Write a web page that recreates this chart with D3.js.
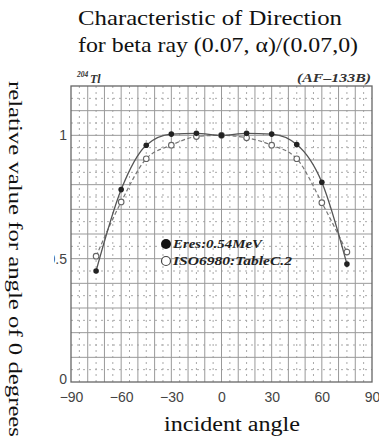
<!DOCTYPE html>
<html>
<head>
<meta charset="utf-8">
<script src="https://cdn.jsdelivr.net/npm/d3@7"></script>
<style>
  body { margin: 0; background: #fff; }
  svg { display: block; }
</style>
</head>
<body>
<svg id="chart"></svg>
<script>
// angles and values
const angles = [-75, -60, -45, -30, -15, 0, 15, 30, 45, 60, 75];
const eresValues = [0.45, 0.78, 0.96, 1.005, 1.008, 1.0, 1.008, 1.005, 0.963, 0.81, 0.478];
const isoValues = [0.51, 0.73, 0.905, 0.96, 0.995, 1.0, 0.99, 0.96, 0.905, 0.727, 0.527];
const xTicks = [-90, -60, -30, 0, 30, 60, 90];
const yTicks = [0, 0.5, 1];
const legendLabels = ["Eres:0.54MeV", "ISO6980:TableC.2"];

const W = 379, H = 440;
const svg = d3.select("#chart").attr("width", W).attr("height", H);

// scales
const x = d3.scaleLinear().domain([-90, 90]).range([71, 372]);
const y = d3.scaleLinear().domain([0, 1.2]).range([382, 86]);

const serif = "'Liberation Serif', 'DejaVu Serif', serif";
const sans = "'Liberation Sans', Arial, sans-serif";

// titel
const title = svg.append("g")
    .style("font-family", serif)
    .style("font-size", "21px")
    .attr("fill", "#111");
title.append("text").attr("x", 78).attr("y", 25)
    .attr("textLength", 264).attr("lengthAdjust", "spacingAndGlyphs")
    .text("Characteristic of Direction");
title.append("text").attr("x", 78).attr("y", 52)
    .attr("textLength", 280).attr("lengthAdjust", "spacingAndGlyphs")
    .text("for beta ray (0.07, α)/(0.07,0)");

// minor grid (dotted)
const grid = svg.append("g");
grid.selectAll(".vmin")
    .data(d3.range(-85, 90, 10))
    .enter().append("line")
    .attr("x1", d => x(d)).attr("x2", d => x(d))
    .attr("y1", y(1.2)).attr("y2", y(0))
    .attr("stroke", "#aaa").attr("stroke-width", 1)
    .attr("stroke-dasharray", "2,4");
grid.selectAll(".hmin")
    .data(d3.range(0.05, 1.2, 0.1))
    .enter().append("line")
    .attr("x1", x(-90)).attr("x2", x(90))
    .attr("y1", d => y(d)).attr("y2", d => y(d))
    .attr("stroke", "#aaa").attr("stroke-width", 1)
    .attr("stroke-dasharray", "2,4");

// major grid
grid.selectAll(".vmaj")
    .data(d3.range(-80, 90, 10))
    .enter().append("line")
    .attr("x1", d => x(d)).attr("x2", d => x(d))
    .attr("y1", y(1.2)).attr("y2", y(0))
    .attr("stroke", "#999").attr("stroke-width", 1);
grid.selectAll(".hmaj")
    .data(d3.range(0.1, 1.15, 0.1))
    .enter().append("line")
    .attr("x1", x(-90)).attr("x2", x(90))
    .attr("y1", d => y(d)).attr("y2", d => y(d))
    .attr("stroke", "#999").attr("stroke-width", 1);

// frame
svg.append("rect")
    .attr("x", x(-90)).attr("y", y(1.2))
    .attr("width", x(90) - x(-90)).attr("height", y(0) - y(1.2))
    .attr("fill", "none").attr("stroke", "#666").attr("stroke-width", 1.3);

// tick labels (left edge of the scan cuts them off)
svg.append("clipPath").attr("id", "scan")
    .append("rect").attr("x", 54).attr("y", 60).attr("width", 330).attr("height", 360);

const ticks = svg.append("g").attr("clip-path", "url(#scan)");

const xAxis = d3.axisBottom(x).tickValues(xTicks).tickSize(0).tickPadding(10)
    .tickFormat(d => d < 0 ? "\u2212" + Math.abs(d) : d);
ticks.append("g").attr("transform", `translate(0,${y(0)})`).call(xAxis)
    .call(g => g.select(".domain").remove())
    .selectAll("text").style("font-family", sans).style("font-size", "14px").attr("fill", "#444");

const yAxis = d3.axisLeft(y).tickValues(yTicks).tickSize(0).tickPadding(4)
    .tickFormat(d3.format("~g"));
ticks.append("g").attr("transform", `translate(${x(-90)},0)`).call(yAxis)
    .call(g => g.select(".domain").remove())
    .selectAll("text").style("font-family", sans).style("font-size", "14px").attr("fill", "#444")
    .attr("dy", d => d === 0 ? "0.1em" : "0.32em");

// headers inside the scan
svg.append("text").attr("x", 77).attr("y", 77)
    .style("font-family", serif).style("font-size", "7.5px")
    .style("font-style", "italic").style("font-weight", "bold").attr("fill", "#333")
    .text("204");
svg.append("text").attr("x", 90).attr("y", 83)
    .style("font-family", serif).style("font-size", "12px")
    .style("font-style", "italic").style("font-weight", "bold").attr("fill", "#333")
    .text("Tl");
svg.append("text").attr("x", 297).attr("y", 82)
    .attr("textLength", 74).attr("lengthAdjust", "spacingAndGlyphs")
    .style("font-family", serif).style("font-size", "12.5px")
    .style("font-style", "italic").style("font-weight", "bold").attr("fill", "#333")
    .text("(AF\u2013133B)");

// lines
const eres = angles.map((a, i) => ({ a: a, v: eresValues[i] }));
const iso = angles.map((a, i) => ({ a: a, v: isoValues[i] }));

const line = d3.line()
    .x(d => x(d.a))
    .y(d => y(d.v))
    .curve(d3.curveMonotoneX);

svg.append("path").datum(iso)
    .attr("fill", "none").attr("stroke", "#777").attr("stroke-width", 1.2)
    .attr("stroke-dasharray", "4,2.5")
    .attr("d", line);

svg.append("path").datum(eres)
    .attr("fill", "none").attr("stroke", "#555").attr("stroke-width", 1.3)
    .attr("d", line);

svg.selectAll(".iso")
    .data(iso)
    .enter().append("circle")
    .attr("cx", d => x(d.a)).attr("cy", d => y(d.v))
    .attr("r", 2.8)
    .attr("fill", "#fff").attr("stroke", "#666").attr("stroke-width", 1.1);

svg.selectAll(".eres")
    .data(eres)
    .enter().append("circle")
    .attr("cx", d => x(d.a)).attr("cy", d => y(d.v))
    .attr("r", 2.8)
    .attr("fill", "#222");

// legend
const legend = svg.append("g");
legend.append("circle").attr("cx", 166).attr("cy", 244).attr("r", 5).attr("fill", "#111");
legend.append("circle").attr("cx", 166).attr("cy", 261).attr("r", 4.5)
    .attr("fill", "#fff").attr("stroke", "#444").attr("stroke-width", 1.2);
legend.selectAll("text")
    .data(legendLabels)
    .enter().append("text")
    .attr("x", 173)
    .attr("y", (d, i) => 248 + i * 17)
    .attr("textLength", (d, i) => i === 0 ? 89 : 119)
    .attr("lengthAdjust", "spacingAndGlyphs")
    .style("font-family", serif).style("font-size", "12.5px")
    .style("font-style", "italic").style("font-weight", "bold").attr("fill", "#222")
    .text(d => d);

// axis titles
svg.append("text")
    .attr("x", 232).attr("y", 431)
    .attr("text-anchor", "middle")
    .attr("textLength", 136).attr("lengthAdjust", "spacingAndGlyphs")
    .style("font-family", serif).style("font-size", "20px").attr("fill", "#111")
    .text("incident angle");

svg.append("text")
    .attr("transform", "translate(9,259) rotate(90)")
    .attr("text-anchor", "middle")
    .attr("textLength", 356).attr("lengthAdjust", "spacingAndGlyphs")
    .style("font-family", serif).style("font-size", "19px").attr("fill", "#111")
    .text("relative value for angle of 0 degrees");
</script>
</body>
</html>
